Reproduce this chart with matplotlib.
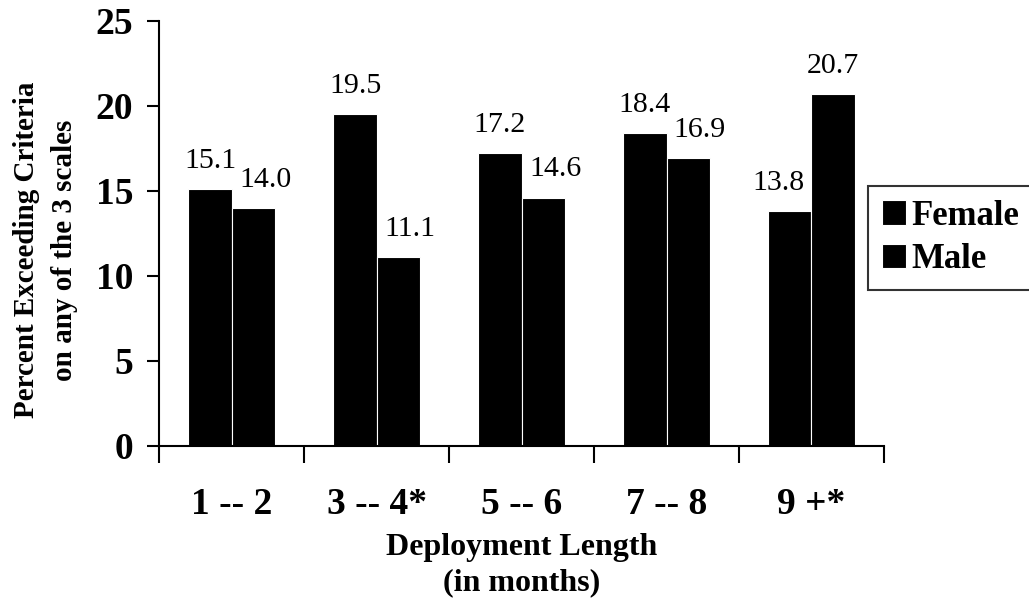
import numpy as np
import matplotlib.pyplot as plt

# deployment length categories and percent values
categories = ["1 -- 2", "3 -- 4*", "5 -- 6", "7 -- 8", "9 +*"]
female = [15.1, 19.5, 17.2, 18.4, 13.8]
male = [14.0, 11.1, 14.6, 16.9, 20.7]

plt.rcParams["font.family"] = ["Liberation Serif", "DejaVu Serif"]

fig = plt.figure(figsize=(10.29, 5.98), dpi=100)
ax = fig.add_axes([0.155, 0.255, 0.704, 0.71])

x = np.arange(len(categories))
w = 0.3
b1 = ax.bar(x - w / 2, female, w, color="black", edgecolor="white", lw=0.8, label="Female")
b2 = ax.bar(x + w / 2, male, w, color="black", edgecolor="white", lw=0.8, label="Male")

# value labels; the label of the shorter bar in a pair is nudged outward
nudge = 0.08
for i in range(len(categories)):
    f, m = female[i], male[i]
    fx = x[i] - w / 2 - (nudge if f < m else 0)
    mx = x[i] + w / 2 + (nudge if m < f else 0)
    ax.text(fx, f + 1.25, f"{f:.1f}", ha="center", va="baseline", fontsize=21.5)
    ax.text(mx, m + 1.25, f"{m:.1f}", ha="center", va="baseline", fontsize=21.5)

ax.set_xlim(-0.5, len(categories) - 0.5)
ax.set_ylim(0, 25)
ax.set_yticks([0, 5, 10, 15, 20, 25])
ax.tick_params(axis="y", direction="out", length=9, width=1.5,
               labelsize=27, pad=10)
for lab in ax.get_yticklabels():
    lab.set_fontweight("bold")

# category labels sit between the boundary ticks
ax.set_xticks(np.arange(-0.5, len(categories), 1))
ax.set_xticklabels([])
ax.set_xticks(x, minor=True)
ax.set_xticklabels(categories, minor=True, fontsize=27, fontweight="bold")
ax.tick_params(axis="x", which="major", direction="out", length=12, width=1.5)
ax.tick_params(axis="x", which="minor", length=0, pad=30)

for s in ("top", "right"):
    ax.spines[s].set_visible(False)
ax.spines["left"].set_linewidth(1.5)
ax.spines["bottom"].set_linewidth(1.5)

ax.set_xlabel("Deployment Length\n(in months)", fontsize=23, fontweight="bold",
              linespacing=1.3)
ax.xaxis.set_label_coords(0.5, -0.205)
ax.set_ylabel("Percent Exceeding Criteria\non any of the 3 scales", fontsize=21,
              fontweight="bold", linespacing=1.55)
ax.yaxis.set_label_coords(-0.112, 0.46)

leg = ax.legend(loc="center left", bbox_to_anchor=(0.978, 0.489),
                prop={"weight": "bold", "size": 25}, frameon=True, fancybox=False,
                edgecolor="black", handlelength=0.7, handleheight=0.7,
                handletextpad=0.15, borderpad=0.4, labelspacing=0.3,
                borderaxespad=0)
leg.get_frame().set_linewidth(1.5)

fig.savefig("out.png", dpi=100)
